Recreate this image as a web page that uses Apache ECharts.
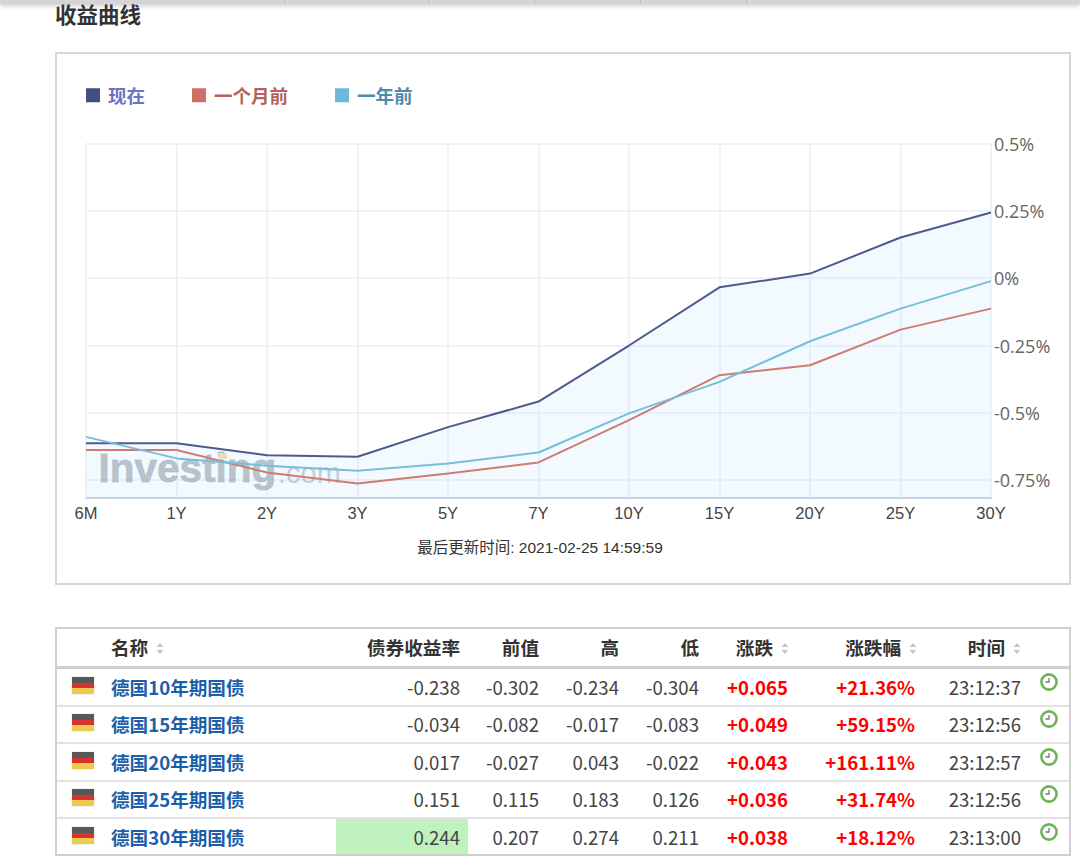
<!DOCTYPE html>
<html><head><meta charset="utf-8">
<script src="https://cdn.jsdelivr.net/npm/echarts@6/dist/echarts.min.js"></script>
<style>
html,body{margin:0;padding:0;background:#fff;width:1080px;height:866px;overflow:hidden;font-family:"Noto Sans CJK SC","Noto Sans",sans-serif}
#chart{position:absolute;left:0;top:0;width:1080px;height:600px}
.a{position:absolute;white-space:nowrap;line-height:1}
.box{position:absolute;box-sizing:border-box}
</style></head><body>
<div class="box" style="left:0;top:0;width:1080px;height:4px;background:#d4d4d4;box-shadow:0 2px 4px rgba(0,0,0,.22)"></div>
<div id="topTicks"></div>
<div class="a" style="left:55px;top:3px;font-size:21.5px;font-weight:700;color:#333">收益曲线</div>
<div class="box" style="left:55px;top:52px;width:1016px;height:533px;border:2px solid #d6d6d6"></div>
<div id="chart"></div>
<div id="table"></div>
<script>
const tenors = ['6M','1Y','2Y','3Y','5Y','7Y','10Y','15Y','20Y','25Y','30Y'];
const nowYield = [-0.613,-0.613,-0.657,-0.663,-0.553,-0.458,-0.250,-0.034,0.017,0.151,0.244];
const monthAgo = [-0.638,-0.638,-0.721,-0.762,-0.725,-0.684,-0.527,-0.360,-0.323,-0.191,-0.113];
const yearAgo = [-0.589,-0.669,-0.696,-0.715,-0.688,-0.647,-0.502,-0.385,-0.234,-0.113,-0.011];
const yTicks = [-0.75,-0.5,-0.25,0,0.25,0.5];
const legendNames = ['现在','一个月前','一年前'];
const updated = '最后更新时间: 2021-02-25 14:59:59';

const headers = ['债券收益率','前值','高','低'];
const bondNames = ['德国10年期国债','德国15年期国债','德国20年期国债','德国25年期国债','德国30年期国债'];
const yieldCol = ['-0.238','-0.034','0.017','0.151','0.244'];
const prevCol = ['-0.302','-0.082','-0.027','0.115','0.207'];
const highCol = ['-0.234','-0.017','0.043','0.183','0.274'];
const lowCol = ['-0.304','-0.083','-0.022','0.126','0.211'];
const chgCol = ['+0.065','+0.049','+0.043','+0.036','+0.038'];
const pctCol = ['+21.36%','+59.15%','+161.11%','+31.74%','+18.12%'];
const timeCol = ['23:12:37','23:12:56','23:12:57','23:12:56','23:13:00'];

const chart = echarts.init(document.getElementById('chart'), null, {renderer:'svg'});
const gridColor = '#e8eefa';
chart.setOption({
  animation:false,
  title:{text:updated,left:535,textAlign:'center',top:535,textStyle:{fontFamily:'"Liberation Sans","Noto Sans CJK SC"',fontSize:15.5,fontWeight:'normal',color:'#333'}},
  legend:{left:81,top:81,itemWidth:14,itemHeight:14,itemGap:47,icon:'rect',
    data:[
      {name:legendNames[0],textStyle:{color:'#6a72c6'}},
      {name:legendNames[1],textStyle:{color:'#b5625a'}},
      {name:legendNames[2],textStyle:{color:'#4f8aa8'}}
    ],
    textStyle:{fontFamily:'"Noto Sans CJK SC"',fontSize:18.5,fontWeight:700,padding:[0,0,0,3]}},
  grid:{left:86,top:143.5,width:905,height:354.5,containLabel:false},
  xAxis:{type:'category',boundaryGap:false,data:tenors,
    axisLine:{show:true,onZero:false,lineStyle:{color:'#c4d3e4',width:2}},
    axisTick:{show:false},
    axisLabel:{color:'#444',fontFamily:'"Liberation Sans"',fontSize:16.5,margin:6,showMinLabel:true,showMaxLabel:true,interval:0},
    splitLine:{show:true,lineStyle:{color:gridColor,width:1.5}}},
  yAxis:{type:'value',position:'right',min:-0.816,max:0.5,
    axisLine:{show:false},axisTick:{show:false,customValues:yTicks},
    axisLabel:{customValues:yTicks,color:'#666',fontFamily:'"Open Sans"',fontSize:18,margin:3,padding:[0,0,7,0],
      formatter:v=>{const r=Math.round(v*100)/100;return r+'%';}},
    splitLine:{show:true,lineStyle:{color:gridColor,width:1.5}}},
  graphic:[
    {type:'text',left:98,top:447,z:1,silent:true,style:{text:'Investing',fontFamily:'"Liberation Sans"',fontWeight:700,fontSize:40.5,stroke:'rgba(160,168,175,0.5)',lineWidth:1,fill:'rgba(160,168,175,0.72)'}},
    {type:'text',left:278,top:458,z:1,silent:true,style:{text:'.com',fontFamily:'"Liberation Sans"',fontSize:29,fill:'rgba(175,182,188,0.7)'}},
    {type:'rect',z:1,silent:true,shape:{x:219,y:453,width:8,height:6},style:{fill:'#f0dcb4'}}
  ],
  series:[
    {name:legendNames[0],type:'line',data:nowYield,symbol:'none',z:3,color:'#444e7e',lineStyle:{width:2,color:'#4f5a8c'},
      areaStyle:{origin:'start',color:'rgba(176,224,255,0.22)'}},
    {name:legendNames[1],type:'line',data:monthAgo,symbol:'none',z:4,color:'#cb7165',lineStyle:{width:2,color:'#cf7c70'}},
    {name:legendNames[2],type:'line',data:yearAgo,symbol:'none',z:5,color:'#6fb8d8',lineStyle:{width:2,color:'#77bedb'}}
  ]
});

function el(html){const d=document.createElement('div');d.innerHTML=html;return d.firstChild;}
const host=document.getElementById('table');
function box(l,t,w,h,bg){host.appendChild(el(`<div class="box" style="left:${l}px;top:${t}px;width:${w}px;height:${h}px;background:${bg}"></div>`));}
function txt(s,right,cy,size,color,weight){host.appendChild(el(`<div class="a" style="right:${1080-right}px;top:${cy-size/2-1}px;font-size:${size}px;color:${color};font-weight:${weight}">${s}</div>`));}
function sort(x,cy){host.appendChild(el(`<svg class="a" style="left:${x}px;top:${cy-5}px" width="8" height="11"><path d="M4 0L7.5 4H.5Z M4 11L7.5 7H.5Z" fill="#c4c4c4"/></svg>`));}

[284,428,534,640,746].forEach(x=>document.getElementById('topTicks').appendChild(el(`<div class="box" style="left:${x}px;top:0;width:1px;height:4px;background:#bbb"></div>`)));

// table frame
box(55,627,1015,2,'#cfcfcf');box(55,627,2,229,'#cfcfcf');box(1069,627,2,229,'#cfcfcf');box(55,854,1016,2,'#cfcfcf');
box(57,666,1012,3,'#cfcfcf');
box(336,818,132,36,'#c0f2c0');
[705,742,780,817].forEach(y=>box(57,y,1012,1.5,'#e2e2e2'));

const hy=648, hc='#333', hs=18.6;
host.appendChild(el(`<div class="a" style="left:111px;top:${hy-10}px;font-size:${hs}px;font-weight:700;color:${hc}">名称</div>`));
sort(156,hy);
const hRight=[460,539,619,699];
headers.forEach((h,i)=>txt(h,hRight[i],hy,hs,hc,700));
txt('涨跌',773,hy,hs,hc,700);sort(781,hy);
txt('涨跌幅',901,hy,hs,hc,700);sort(909,hy);
txt('时间',1005,hy,hs,hc,700);sort(1013,hy);

const rowY=[688,725,763,800,838];
bondNames.forEach((n,i)=>{
  const y=rowY[i];
  const fy=y-11;
  host.appendChild(el(`<div class="box" style="left:72px;top:${fy}px;width:22px;height:17px;background:linear-gradient(#585858 0 33%,#d8332f 33% 66%,#eccb4e 66% 100%);box-shadow:0 0 1px rgba(0,0,0,.3)"></div>`));
  host.appendChild(el(`<div class="a" style="left:111px;top:${y-10}px;font-size:18.6px;font-weight:700;color:#1c5ea8">${n}</div>`));
  txt(yieldCol[i],460,y,18.6,'#444',400);
  txt(prevCol[i],539,y,18.6,'#444',400);
  txt(highCol[i],619,y,18.6,'#444',400);
  txt(lowCol[i],699,y,18.6,'#444',400);
  txt(chgCol[i],788,y,18.6,'#f00',700);
  txt(pctCol[i],915,y,18.6,'#f00',700);
  txt(timeCol[i],1021,y,18.6,'#444',400);
  host.appendChild(el(`<svg class="a" style="left:1039px;top:${y-16}px" width="20" height="20"><circle cx="10" cy="10" r="7.6" fill="#fff" stroke="#6cb35a" stroke-width="2.6"/><path d="M10 6V10H6.5" fill="none" stroke="#777" stroke-width="1.3"/></svg>`));
});
</script>
</body></html>
